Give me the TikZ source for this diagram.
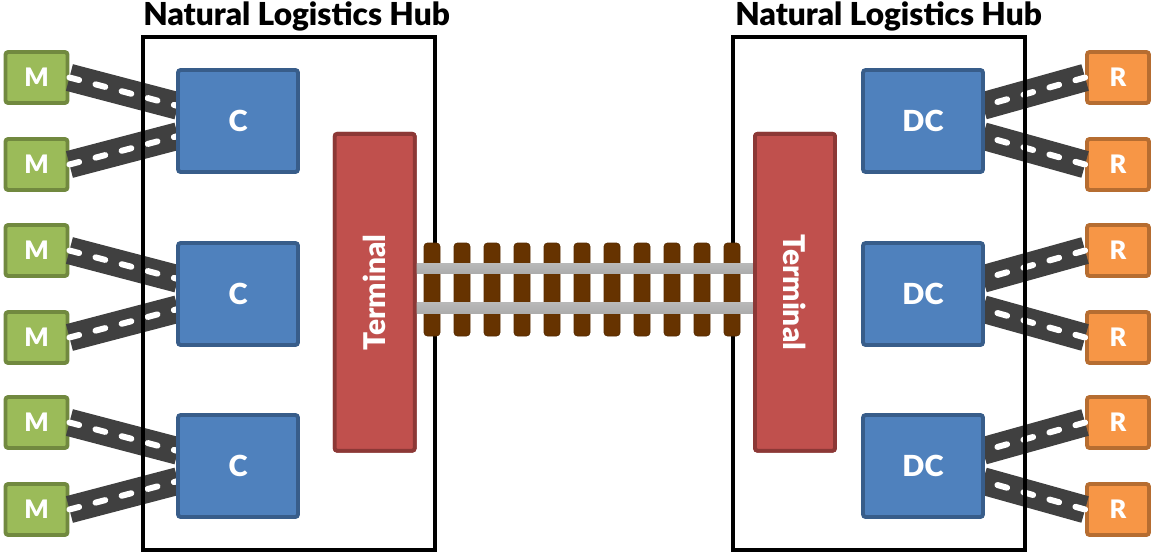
\documentclass[tikz,border=0pt]{standalone}
\usepackage{graphicx}
\usepackage{fontspec}
\setmainfont{Lato}[BoldFont={Lato Black}]
\usetikzlibrary{positioning,calc}

\definecolor{mgreen}{HTML}{9BBB59}
\definecolor{mgreenD}{HTML}{71893F}
\definecolor{cblue}{HTML}{4F81BD}
\definecolor{cblueD}{HTML}{385D8A}
\definecolor{tred}{HTML}{C0504D}
\definecolor{tredD}{HTML}{8C3836}
\definecolor{rorange}{HTML}{F79646}
\definecolor{rorangeD}{HTML}{B66D31}
\definecolor{roadgray}{HTML}{404040}
\definecolor{tiebrown}{HTML}{663300}

\tikzset{
  box/.style={draw, line width=2.2pt, rounded corners=1.5pt, text=white, inner sep=0pt},
  mbox/.style={box, fill=mgreen, draw=mgreenD, minimum width=1.24cm, minimum height=1.02cm,
    font=\fontsize{14.5}{16}\selectfont\bfseries},
  rbox/.style={mbox, fill=rorange, draw=rorangeD},
  cbox/.style={box, fill=cblue, draw=cblueD, minimum width=2.4cm, minimum height=2.04cm,
    font=\fontsize{16.5}{18}\selectfont\bfseries},
  term/.style={box, fill=tred, draw=tredD, minimum width=1.6cm, minimum height=6.34cm,
    font=\fontsize{17}{19}\selectfont\bfseries},
  hub/.style={draw=black, line width=2.3pt, minimum width=5.84cm, minimum height=10.26cm, inner sep=0pt},
  hubtitle/.style={font=\fontsize{18}{20}\selectfont\bfseries, inner sep=0pt, anchor=base west},
  road/.style={draw=roadgray, line width=0.55cm,
    postaction={draw=white, line width=0.12cm, line cap=round, dash pattern=on 0.2cm off 0.34cm}},
  tie/.style={fill=tiebrown, draw=tiebrown!85!black, line width=0.4pt, rounded corners=2pt},
  rail/.style={top color=gray!55, middle color=white, bottom color=gray!65}
}

\begin{document}
\begin{tikzpicture}[x=0.02cm, y=-0.02cm]
  \useasboundingbox (0,0) rectangle (1153,554);

  % Suppliers on the left, retailers on the right
  \foreach \i/\y in {1/77.5, 2/164.5, 3/250.5, 4/337.5, 5/422.5, 6/509.5} {
    \node[mbox] (m\i) at (36.5,\y) {M};
    \node[rbox] (r\i) at (1118,\y) {R};
  }

  % Roads from the suppliers to the C boxes
  \foreach \c/\a/\b/\y in {1/1/2/121, 2/3/4/294, 3/5/6/466} {
    \coordinate (cin\c a) at (178,\y-15);
    \coordinate (cin\c b) at (178,\y+15);
    \coordinate (dout\c a) at (983,\y-15);
    \coordinate (dout\c b) at (983,\y+15);
    \draw[road] (m\a.east) -- (cin\c a);
    \draw[road] (m\b.east) -- (cin\c b);
    \draw[road] (r\a.west) -- (dout\c a);
    \draw[road] (r\b.west) -- (dout\c b);
  }

  % The two hubs
  \node[hub] (hubL) at (289,293.5) {};
  \node[hub] (hubR) at (879,293.5) {};
  \node[hubtitle] (titleL) at ($(hubL.north west)+(2,-10)$) {Natural Logistics Hub};
  \node[hubtitle] (titleR) at ($(hubR.north west)+(4,-10)$) {Natural Logistics Hub};

  % Boxes inside the hubs
  \foreach \i/\y in {1/121, 2/294, 3/466} {
    \node[cbox] (c\i) at (238,\y) {C};
    \node[cbox] (dc\i) at (923,\y) {DC};
  }

  % Rail track between the terminals
  \foreach \x in {432,462,...,732}
    \draw[tie] (\x-8,243) rectangle (\x+8,336);

  \node[term] (termL) at (374.7,292.3) {\rotatebox{90}{Terminal}};
  \node[term] (termR) at (795,292.3) {\rotatebox{-90}{Terminal}};

  \shade[rail] ($(termL.east)+(0,-29.3)$) rectangle ($(termR.west)+(0,-19.3)$);
  \shade[rail] ($(termL.east)+(0,9.7)$) rectangle ($(termR.west)+(0,20.7)$);

  % redraw terminals over the rail ends
  \node[term] at (termL) {\rotatebox{90}{Terminal}};
  \node[term] at (termR) {\rotatebox{-90}{Terminal}};

\end{tikzpicture}
\end{document}
